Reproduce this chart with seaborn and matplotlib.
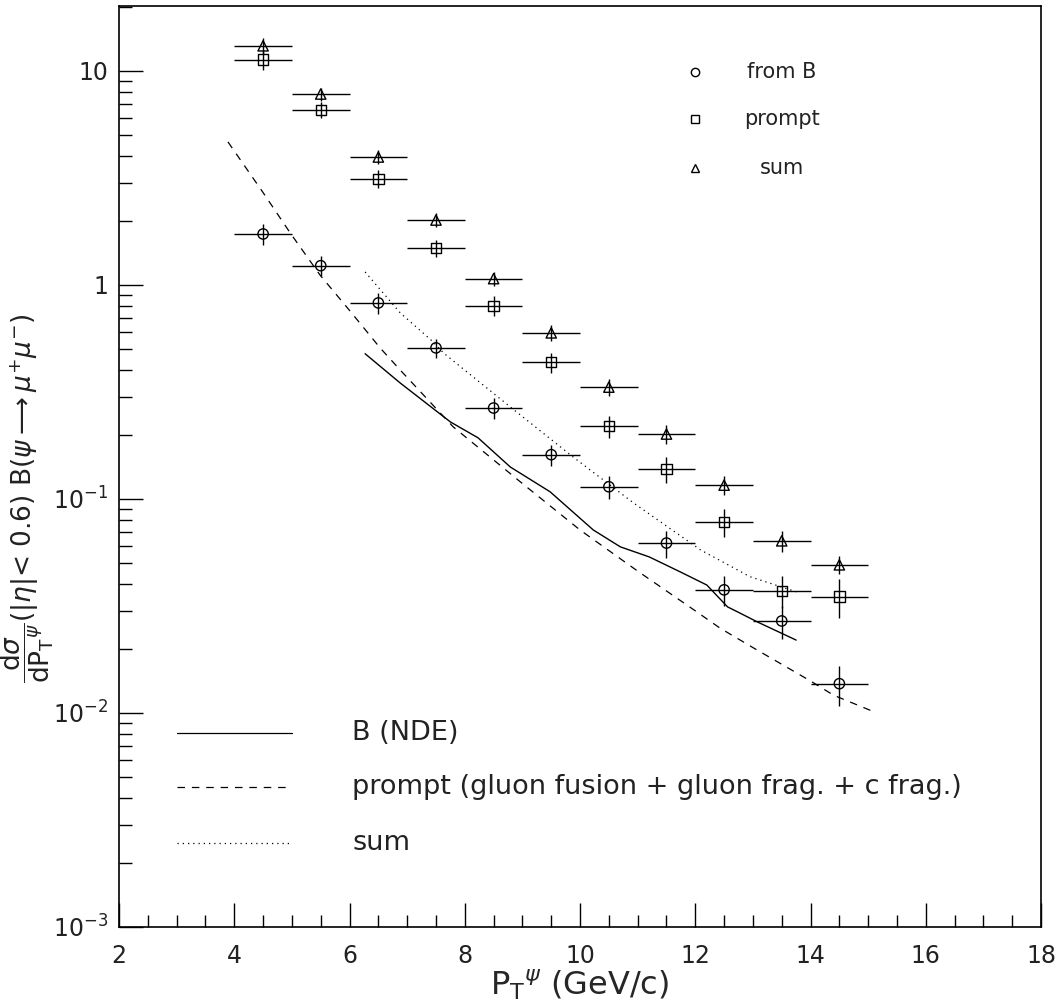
import numpy as np
import pandas as pd
import matplotlib
matplotlib.use("Agg")
import matplotlib.pyplot as plt
import seaborn as sns
from matplotlib.ticker import MultipleLocator, FixedLocator, FixedFormatter, NullFormatter

# measured J/psi cross sections (|eta| < 0.6), bins of 1 GeV/c
pt_bins = [4.5, 5.5, 6.5, 7.5, 8.5, 9.5, 10.5, 11.5, 12.5, 13.5, 14.5]
pt_halfwidth = 0.5

from_b = [1.73, 1.23, 0.824, 0.508, 0.266, 0.161, 0.114, 0.0622, 0.0376, 0.0269, 0.0137]
from_b_err = [0.20, 0.13, 0.09, 0.05, 0.03, 0.018, 0.014, 0.009, 0.006, 0.0047, 0.0029]

prompt = [11.3, 6.58, 3.13, 1.49, 0.80, 0.436, 0.219, 0.138, 0.0782, 0.0372, 0.035]
prompt_err = [1.2, 0.57, 0.30, 0.14, 0.086, 0.047, 0.026, 0.019, 0.012, 0.0064, 0.0072]

total = [13.1, 7.8, 3.96, 2.01, 1.07, 0.597, 0.333, 0.201, 0.116, 0.0637, 0.0492]
total_err = [1.1, 0.55, 0.30, 0.15, 0.08, 0.05, 0.03, 0.02, 0.012, 0.007, 0.0048]

# theory curves
nde_pt = [6.27, 6.88, 7.75, 8.23, 8.79, 9.48, 10.23, 10.7, 11.2, 11.74, 12.2, 12.56, 12.73, 13.08, 13.75]
nde_val = [0.477, 0.348, 0.229, 0.193, 0.141, 0.108, 0.0716, 0.0597, 0.0536, 0.0456, 0.0396, 0.0313, 0.0297, 0.0266, 0.0219]

prompt_th_pt = [3.89, 4.5, 4.97, 5.49, 6.0, 6.53, 6.88, 7.8, 9.0, 10.0, 11.0, 12.0, 12.43, 13.0, 14.0, 14.4, 15.07]
prompt_th_val = [4.66, 2.7, 1.75, 1.11, 0.76, 0.508, 0.40, 0.217, 0.118, 0.0716, 0.046, 0.030, 0.0249, 0.0202, 0.0141, 0.0121, 0.0102]

sum_th_pt = [6.27, 6.76, 6.88, 7.45, 7.63, 8.79, 9.88, 10.93, 12.09, 12.95, 13.77]
sum_th_val = [1.15, 0.807, 0.74, 0.542, 0.481, 0.269, 0.157, 0.0957, 0.0578, 0.0433, 0.0367]

y_ticks = [1e-3, 1e-2, 1e-1, 1, 10]
y_ticklabels = [r"$10^{-3}$", r"$10^{-2}$", r"$10^{-1}$", "1", "10"]

sns.set_style("ticks")
plt.rcParams["font.family"] = ["DejaVu Sans"]
plt.rcParams["mathtext.fontset"] = "dejavusans"
plt.rcParams["text.color"] = "#222222"
plt.rcParams["xtick.color"] = "black"
plt.rcParams["ytick.color"] = "black"
plt.rcParams["xtick.labelcolor"] = "#222222"
plt.rcParams["ytick.labelcolor"] = "#222222"

fig = plt.figure(figsize=(10.61, 10.07), dpi=100)
ax = fig.add_axes([0.1122, 0.0795, 0.869, 0.9145])
ax.set_yscale("log")

# data points with error bars
series = [(from_b, from_b_err, "o"), (prompt, prompt_err, "s"), (total, total_err, "^")]
for vals, errs, mk in series:
    ax.errorbar(pt_bins, vals, xerr=pt_halfwidth, yerr=errs, fmt="none",
                ecolor="black", elinewidth=1.0, capsize=0)
    sns.scatterplot(x=pt_bins, y=vals, marker=mk, s=55, facecolor="none",
                    edgecolor="black", linewidth=1.0, ax=ax, zorder=3)

# theory curves
sns.lineplot(x=nde_pt, y=nde_val, color="black", linewidth=1.0, ax=ax)
sns.lineplot(x=prompt_th_pt, y=prompt_th_val, color="black", linewidth=0.9, ax=ax)
ax.lines[-1].set_dashes([6, 5.5])
sns.lineplot(x=sum_th_pt, y=sum_th_val, color="black", linewidth=0.9, ax=ax)
ax.lines[-1].set_dashes([1, 3.2])

ax.set_xlim(2, 18)
ax.set_ylim(1e-3, 20.1)

ax.xaxis.set_major_locator(MultipleLocator(2))
ax.xaxis.set_minor_locator(MultipleLocator(0.5))
ax.yaxis.set_major_locator(FixedLocator(y_ticks))
ax.yaxis.set_major_formatter(FixedFormatter(y_ticklabels))
ax.yaxis.set_minor_formatter(NullFormatter())
ax.tick_params(which="both", direction="in", width=1.0)
ax.tick_params(which="major", length=17, labelsize=17, pad=8)
ax.tick_params(which="minor", length=9)
ax.tick_params(axis="x", which="major", pad=12)
for sp in ax.spines.values():
    sp.set_linewidth(1.2)
    sp.set_color("black")

ax.set_xlabel(r"P$_{\mathrm{T}}$$^{\psi}$ (GeV/c)", fontsize=23, labelpad=0)
fig.text(0.026, 0.505,
         r"$\dfrac{\mathrm{d}\sigma}{\mathrm{dP_T}^{\psi}}$(|$\eta$|< 0.6) B($\psi\longrightarrow\mu^{+}\mu^{-}$)",
         rotation=90, ha="center", va="center", fontsize=19)

# marker key, top right
key_labels = ["from B", "prompt", "sum"]
key_markers = ["o", "s", "^"]
key_y = [0.928, 0.877, 0.824]
for lab, mk, yy in zip(key_labels, key_markers, key_y):
    ax.plot([0.625], [yy], marker=mk, ms=6, mfc="none", mec="black", mew=1.0,
            linestyle="none", transform=ax.transAxes)
    ax.text(0.719, yy, lab, transform=ax.transAxes, ha="center", va="center", fontsize=15)

# line key, bottom left
line_labels = ["B (NDE)", "prompt (gluon fusion + gluon frag. + c frag.)", "sum"]
line_dashes = [None, [6, 5.5], [1, 3.2]]
line_y = [0.211, 0.152, 0.091]
for lab, ds, yy in zip(line_labels, line_dashes, line_y):
    ln, = ax.plot([0.063, 0.188], [yy, yy], color="black", linewidth=0.9, transform=ax.transAxes)
    if ds is not None:
        ln.set_dashes(ds)
    ax.text(0.253, yy, lab, transform=ax.transAxes, ha="left", va="center", fontsize=19.5)

fig.savefig("out.png", dpi=100)
